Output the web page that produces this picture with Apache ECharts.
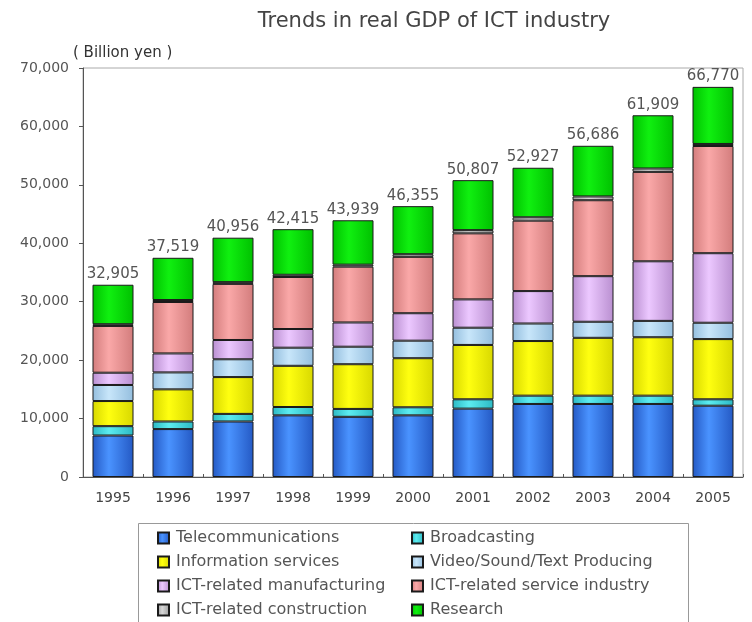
<!DOCTYPE html>
<html>
<head>
<meta charset="utf-8">
<script src="https://cdn.jsdelivr.net/npm/echarts@6/dist/echarts.min.js"></script>
<style>
  html, body { margin: 0; padding: 0; background: #fff; }
  #chart { width: 752px; height: 622px; }
</style>
</head>
<body>
<div id="chart"></div>
<script>
// years on the x axis
const years = ['1995', '1996', '1997', '1998', '1999', '2000', '2001', '2002', '2003', '2004', '2005'];
const yTicks = [0, 10000, 20000, 30000, 40000, 50000, 60000, 70000];

// segment values (billion yen)
const telecom = [7100, 8200, 9500, 10550, 10300, 10550, 11700, 12500, 12500, 12500, 12200];
const broadcasting = [1600, 1300, 1300, 1430, 1350, 1380, 1600, 1420, 1420, 1420, 1100];
const infoServices = [4300, 5500, 6300, 7050, 7650, 8400, 9300, 9350, 9900, 10000, 10300];
const videoSound = [2750, 2900, 3050, 3100, 3000, 3000, 2950, 3000, 2750, 2800, 2800];
const manufacturing = [2100, 3250, 3300, 3200, 4150, 4700, 4850, 5550, 7800, 10200, 11900];
const serviceIndustry = [8000, 8800, 9600, 8900, 9550, 9650, 11300, 12050, 13000, 15300, 18350];
const construction = [300, 340, 300, 380, 340, 450, 550, 580, 650, 580, 350];
const research = [6755, 7229, 7606, 7805, 7599, 8225, 8557, 8477, 8666, 9109, 9770];

// totals printed above the bars
const totals = [32905, 37519, 40956, 42415, 43939, 46355, 50807, 52927, 56686, 61909, 66770];

const FONT = 'DejaVu Sans';

function shade (dark, light) {
  return new echarts.graphic.LinearGradient(0, 0, 1, 0, [
    { offset: 0, color: dark },
    { offset: 0.4, color: light },
    { offset: 1, color: dark }
  ]);
}

function fmt (v) {
  return String(v).replace(/\B(?=(\d{3})+(?!\d))/g, ',');
}

const seriesDefs = [
  { name: 'Telecommunications', data: telecom, dark: '#2459c4', light: '#4a93ff' },
  { name: 'Broadcasting', data: broadcasting, dark: '#2cb9c4', light: '#5cecf0' },
  { name: 'Information services', data: infoServices, dark: '#d8d800', light: '#ffff10' },
  { name: 'Video/Sound/Text Producing', data: videoSound, dark: '#94bede', light: '#c8e6fa' },
  { name: 'ICT-related manufacturing', data: manufacturing, dark: '#b98fd0', light: '#ecc8ff' },
  { name: 'ICT-related service industry', data: serviceIndustry, dark: '#d27c7c', light: '#faa8a8' },
  { name: 'ICT-related construction', data: construction, dark: '#9a9a9a', light: '#d8d8d8' },
  { name: 'Research', data: research, dark: '#00c000', light: '#10f010' }
];

const series = seriesDefs.map((d, i) => {
  const s = {
    name: d.name,
    type: 'bar',
    stack: 'gdp',
    barWidth: 41,
    data: d.data,
    itemStyle: {
      color: shade(d.dark, d.light),
      borderColor: '#1a1a1a',
      borderWidth: 1
    }
  };
  if (i === seriesDefs.length - 1) {
    s.label = {
      show: true,
      position: 'top',
      distance: 3,
      color: '#555',
      fontFamily: FONT,
      fontSize: 15,
      formatter: (p) => fmt(totals[p.dataIndex])
    };
  }
  return s;
});

const legendText = { color: '#555', fontFamily: FONT, fontSize: 16, padding: [0, 0, 0, 2] };

const legendBase = {
  orient: 'vertical',
  top: 525,
  height: 100,
  itemGap: 8,
  itemWidth: 11,
  itemHeight: 11,
  icon: 'rect',
  textStyle: legendText
};

const option = {
  animation: false,
  backgroundColor: '#fff',
  title: {
    text: 'Trends in real GDP of ICT industry',
    left: 429,
    top: 6,
    textAlign: 'center',
    textStyle: { color: '#444', fontFamily: FONT, fontSize: 21, fontWeight: 'normal' }
  },
  grid: {
    left: 83,
    right: 9,
    top: 68,
    bottom: 145,
    show: true,
    borderColor: '#aaa',
    borderWidth: 1
  },
  legend: [
    Object.assign({}, legendBase, {
      left: 152,
      data: ['Telecommunications', 'Information services', 'ICT-related manufacturing', 'ICT-related construction']
    }),
    Object.assign({}, legendBase, {
      left: 406,
      data: ['Broadcasting', 'Video/Sound/Text Producing', 'ICT-related service industry', 'Research']
    })
  ],
  graphic: [
    {
      type: 'rect',
      shape: { x: 138.5, y: 523.5, width: 550, height: 110 },
      style: { fill: 'none', stroke: '#999', lineWidth: 1 },
      z: -1
    }
  ],
  xAxis: {
    type: 'category',
    data: years,
    axisLine: { lineStyle: { color: '#555' } },
    axisTick: { show: true, inside: true, length: 3, lineStyle: { color: '#555' } },
    axisLabel: { color: '#444', fontFamily: FONT, fontSize: 14, margin: 14 }
  },
  yAxis: {
    type: 'value',
    min: yTicks[0],
    max: yTicks[yTicks.length - 1],
    interval: 10000,
    name: '( Billion yen )',
    nameLocation: 'end',
    nameGap: 6,
    nameTextStyle: { color: '#333', fontFamily: FONT, fontSize: 15, align: 'left', padding: [0, 0, 0, -10] },
    axisLine: { show: true, lineStyle: { color: '#555' } },
    axisTick: { show: true, length: 4, lineStyle: { color: '#555' } },
    splitLine: { show: false },
    axisLabel: {
      color: '#555',
      fontFamily: FONT,
      fontSize: 14,
      margin: 14,
      formatter: (v) => fmt(v)
    }
  },
  series: series
};

const chart = echarts.init(document.getElementById('chart'), null, { renderer: 'canvas' });
chart.setOption(option);
</script>
</body>
</html>
